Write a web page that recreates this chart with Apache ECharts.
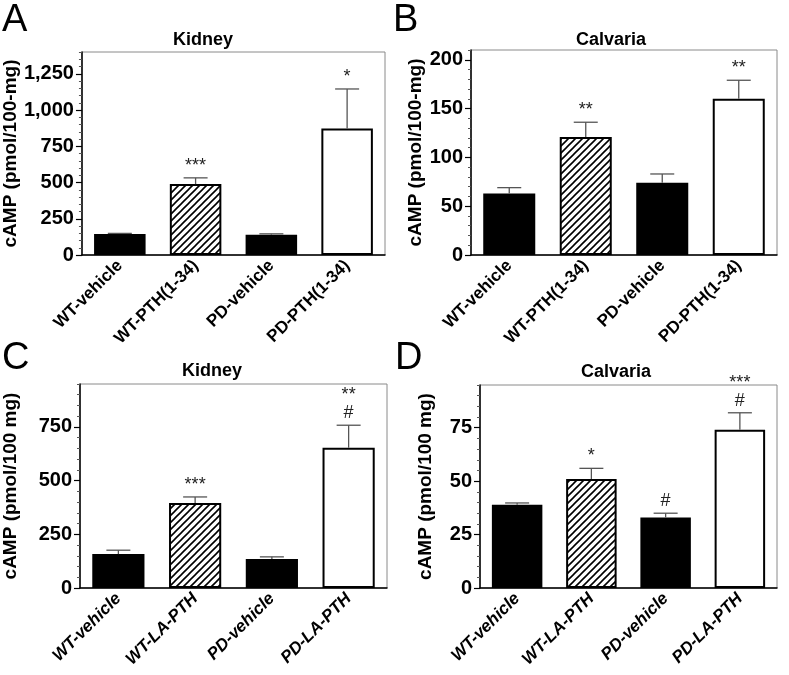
<!DOCTYPE html>
<html><head><meta charset="utf-8">
<script src="https://cdn.jsdelivr.net/npm/echarts@6/dist/echarts.min.js"></script>
<style>html,body{margin:0;padding:0;background:#fff}#c{width:789px;height:675px}</style>
</head><body><div id="c"></div>
<script>
// ---- data ----
var catsTop = ['WT-vehicle', 'WT-PTH(1-34)', 'PD-vehicle', 'PD-PTH(1-34)'];
var catsBottom = ['WT-vehicle', 'WT-LA-PTH', 'PD-vehicle', 'PD-LA-PTH'];
var meanA = [145, 489, 140, 872];
var errA  = [4, 43, 6, 273];
var annA  = ['', '***', '', '*'];
var meanB = [63, 121, 74, 160];
var errB  = [6, 15, 9, 19];
var annB  = ['', '**', '', '**'];
var meanC = [158, 396, 135, 653];
var errC  = [18, 28, 10, 105];
var annC  = ['', '***', '', '**\n#'];
var meanD = [39, 51, 33, 74];
var errD  = [0.8, 5, 2, 8];
var annD  = ['', '*', '#', '***\n#'];
var yMax = [1400, 210, 950, 95];
var yMajor = [250, 50, 250, 25];
var yMinor = [50, 10, 50, 5];
var titles = ['Kidney', 'Calvaria', 'Kidney', 'Calvaria'];
var yNames = ['cAMP (pmol/100-mg)', 'cAMP (pmol/100-mg)', 'cAMP (pmol/100 mg)', 'cAMP (pmol/100 mg)'];
var letters = ['A', 'B', 'C', 'D'];

var FONT = '"Liberation Sans", Arial, Helvetica, sans-serif';

function hatch() {
  var s = 7, c = document.createElement('canvas');
  c.width = s; c.height = s;
  var g = c.getContext('2d');
  g.fillStyle = '#fff'; g.fillRect(0, 0, s, s);
  g.strokeStyle = '#000'; g.lineWidth = 1.6;
  g.beginPath();
  g.moveTo(-1, s + 1); g.lineTo(s + 1, -1);
  g.moveTo(-1, 1); g.lineTo(1, -1);
  g.moveTo(s - 1, s + 1); g.lineTo(s + 1, s - 1);
  g.stroke();
  return c;
}
var hatchFill = { image: hatch(), repeat: 'repeat' };

var grids = [
  { left: 80, top: 52, width: 305, height: 203 },
  { left: 471, top: 50, width: 306, height: 205 },
  { left: 80, top: 384, width: 307, height: 204 },
  { left: 480, top: 385, width: 297, height: 203 }
];
var nameGaps = [57, 34, 60, 45];
var panels = [
  { cats: catsTop, mean: meanA, err: errA, ann: annA, italic: false },
  { cats: catsTop, mean: meanB, err: errB, ann: annB, italic: false },
  { cats: catsBottom, mean: meanC, err: errC, ann: annC, italic: true },
  { cats: catsBottom, mean: meanD, err: errD, ann: annD, italic: true }
];

var option = { animation: false, grid: [], xAxis: [], yAxis: [], series: [], graphic: [] };

panels.forEach(function (p, k) {
  var g = grids[k];
  option.grid.push({ left: g.left, top: g.top, width: g.width, height: g.height, show: true,
    borderColor: '#8a8a8a', borderWidth: 1, backgroundColor: 'transparent' });
  option.xAxis.push({
    type: 'category', gridIndex: k, data: p.cats,
    axisLine: { lineStyle: { color: '#000', width: 1.5 } },
    axisTick: { alignWithLabel: true, length: 5, lineStyle: { color: '#444' } },
    axisLabel: { rotate: 45, margin: 8, interval: 0, color: '#000', fontFamily: FONT, fontWeight: 'bold',
      fontStyle: p.italic ? 'italic' : 'normal', fontSize: 17 }
  });
  option.yAxis.push({
    type: 'value', gridIndex: k, position: 'left', min: 0, max: yMax[k], interval: yMinor[k],
    name: yNames[k], nameLocation: 'middle', nameGap: nameGaps[k],
    nameTextStyle: { fontFamily: FONT, fontWeight: 'bold', fontSize: 19, color: '#000' },
    axisLine: { show: true, lineStyle: { color: '#000', width: 1.5 } },
    axisTick: { show: true, length: 3, lineStyle: { color: '#555' } },
    splitLine: { show: false },
    axisLabel: {
      margin: 8, color: '#000', fontFamily: FONT, fontWeight: 'bold', fontSize: 20,
      formatter: (function (step) { return function (val) {
        return (Math.round(val) % step === 0) ? Number(val).toLocaleString('en-US') : '';
      }; })(yMajor[k])
    }
  });
});
// secondary axes (same scale, left side) for longer major ticks
panels.forEach(function (p, k) {
  var majorVals = [];
  for (var v = 0; v <= yMax[k]; v += yMajor[k]) majorVals.push(v);
  option.yAxis.push({
    type: 'value', gridIndex: k, position: 'left', offset: 0, min: 0, max: yMax[k], interval: yMajor[k],
    axisLine: { show: false }, splitLine: { show: false },
    axisLabel: { show: false },
    axisTick: { show: true, length: 6, customValues: majorVals, lineStyle: { color: '#000', width: 1.2 } }
  });
});

panels.forEach(function (p, k) {
  var barData = p.mean.map(function (m, i) {
    var fill = i === 1 ? hatchFill : (i === 3 ? '#fff' : '#000');
    return { value: m, itemStyle: { color: fill, borderColor: '#000', borderWidth: 2 } };
  });
  option.series.push({
    type: 'bar', xAxisIndex: k, yAxisIndex: k, data: barData, barWidth: '68%', z: 2
  });
  var errData = p.mean.map(function (m, i) { return [i, m, p.err[i]]; });
  option.series.push({
    type: 'custom', xAxisIndex: k, yAxisIndex: k, data: errData, z: 3,
    renderItem: (function (ann) { return function (params, api) {
      var x = api.value(0), m = api.value(1), e = api.value(2);
      var p0 = api.coord([x, m]), p1 = api.coord([x, m + e]);
      var half = 12;
      var children = [
        { type: 'line', shape: { x1: p0[0], y1: p0[1], x2: p1[0], y2: p1[1] }, style: { stroke: '#555', lineWidth: 1.3 } },
        { type: 'line', shape: { x1: p1[0] - half, y1: p1[1], x2: p1[0] + half, y2: p1[1] }, style: { stroke: '#555', lineWidth: 1.3 } }
      ];
      var t = ann[params.dataIndex];
      if (t) {
        children.push({ type: 'text', x: p1[0], y: p1[1] - 3,
          style: { text: t, fill: '#222', font: '18px ' + FONT, textAlign: 'center', textVerticalAlign: 'bottom', lineHeight: 18 } });
      }
      return { type: 'group', children: children };
    }; })(p.ann)
  });
});

var titlePos = [[203, 40], [611, 40], [212, 371], [616, 372]];
var letterPos = [[2, 2], [393, 2], [2, 340], [395, 340]];
for (var k = 0; k < 4; k++) {
  option.graphic.push({ type: 'text', x: titlePos[k][0], y: titlePos[k][1],
    style: { text: titles[k], font: 'bold 18px ' + FONT, fill: '#000', textAlign: 'center', textVerticalAlign: 'middle' } });
  option.graphic.push({ type: 'text', x: letterPos[k][0], y: letterPos[k][1],
    style: { text: letters[k], font: '38px ' + FONT, fill: '#000', textAlign: 'left', textVerticalAlign: 'top' } });
}

var chart = echarts.init(document.getElementById('c'), null, { renderer: 'canvas' });
chart.setOption(option);
</script>
</body></html>
